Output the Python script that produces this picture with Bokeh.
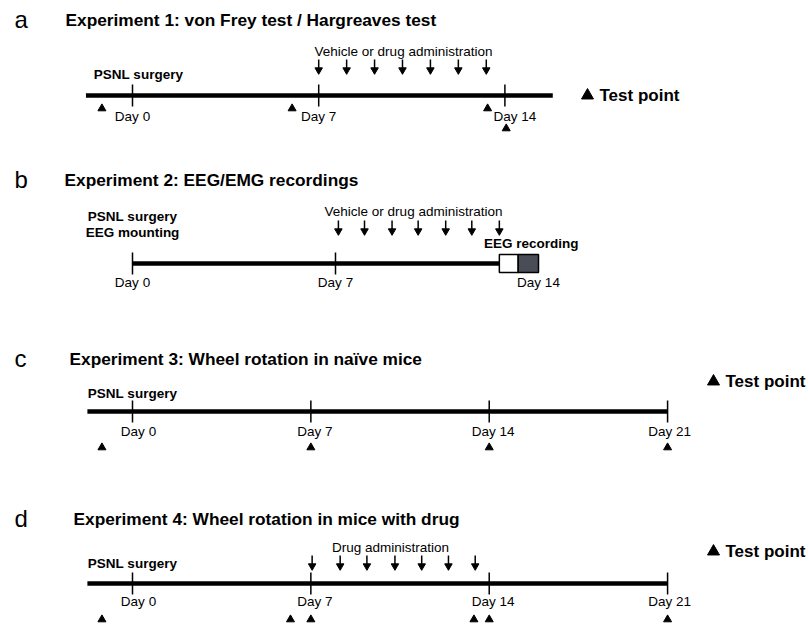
from bokeh.plotting import figure
from bokeh.models import Range1d
from bokeh.core.properties import value
from bokeh.embed import file_html
from bokeh.resources import INLINE

# ---------------- data (days) ----------------
panel_letters = ["a", "b", "c", "d"]
titles = ["Experiment 1: von Frey test / Hargreaves test",
          "Experiment 2: EEG/EMG recordings",
          "Experiment 3: Wheel rotation in na\u00efve mice",
          "Experiment 4: Wheel rotation in mice with drug"]

# Experiment 1
a_span = [-1.75, 15.8]
a_tick_days = [0, 7, 14]
a_tick_labels = ["Day 0", "Day 7", "Day 14"]
a_admin_days = [7.0, 8.05, 9.1, 10.15, 11.2, 12.25, 13.3]
a_test_days = [-1.15, 6.0, 13.35]
a_test_days_low = [14.05]

# Experiment 2
b_span = [0, 12.65]
b_tick_days = [0, 7]
b_label_days = [0, 7, 14]
b_tick_labels = ["Day 0", "Day 7", "Day 14"]
b_admin_days = [7.1, 8.0, 8.95, 9.85, 10.8, 11.7, 12.65]
b_eeg_left = [12.65, 13.3]
b_eeg_right = [13.3, 14.0]

# Experiment 3
c_span = [-1.77, 21]
c_tick_days = [0, 7, 14, 21]
c_tick_labels = ["Day 0", "Day 7", "Day 14", "Day 21"]
c_test_days = [-1.2, 7, 14, 21]

# Experiment 4
d_span = [-1.77, 21]
d_tick_days = [0, 7, 14, 21]
d_tick_labels = ["Day 0", "Day 7", "Day 14", "Day 21"]
d_admin_days = [7.05, 8.15, 9.2, 10.3, 11.35, 12.4, 13.45]
d_test_days = [-1.2, 6.2, 7, 13.4, 14, 21]

# ---------------- layout ----------------
W, H = 809, 626
FONT = "Liberation Sans"
DARK = "#4a4d56"

p = figure(width=W, height=H, x_range=Range1d(0, W), y_range=Range1d(H, 0),
           output_backend="svg", toolbar_location=None, min_border=0,
           x_axis_location=None, y_axis_location=None)
p.grid.visible = False
p.outline_line_color = None


def day_range(p0, s):
    return Range1d(-p0 / s, (W - p0) / s)


p.extra_x_ranges = {"a": day_range(132, 26.6), "b": day_range(132, 29.0),
                    "cd": day_range(132, 25.48)}


def txt(x, y, s, size, bold=False, align="left", rng="default", dx=0):
    n = len(s) if isinstance(s, list) else 1
    xs = x if isinstance(x, list) else [x]
    ys = y if isinstance(y, list) else [y] * n
    ss = s if isinstance(s, list) else [s]
    dxs = dx if isinstance(dx, list) else [dx] * n
    p.text(x=xs, y=ys, text=ss, x_offset=dxs, text_font=value(FONT),
           text_font_size=f"{size}px", text_font_style="bold" if bold else "normal",
           text_align=align, text_baseline="middle", text_color="black",
           x_range_name=rng)


def timeline(rng, y, span, ticks, lw=4.5):
    p.segment(x0=[span[0]], x1=[span[1]], y0=[y], y1=[y], line_width=lw,
              line_color="black", x_range_name=rng)
    p.segment(x0=ticks, x1=ticks, y0=[y - 11] * len(ticks), y1=[y + 11] * len(ticks),
              line_width=1.5, line_color="black", x_range_name=rng)


def arrows(rng, days, ytop, ytip):
    n = len(days)
    p.segment(x0=days, x1=days, y0=[ytop] * n, y1=[ytip - 4] * n, line_width=1.5,
              line_color="black", x_range_name=rng)
    p.scatter(x=days, y=[ytip - 3.5] * n, marker="inverted_triangle", size=7.5,
              fill_color="black", line_color="black", x_range_name=rng)


def tests(rng, days, y, size=8):
    p.scatter(x=days, y=[y] * len(days), marker="triangle", size=size,
              fill_color="black", line_color="black", x_range_name=rng)


def legend(x, y):
    p.scatter(x=[x], y=[y], marker="triangle", size=12, fill_color="black",
              line_color="black")
    txt(x + 12, y, "Test point", 17, bold=True)


# panel letters and titles
letter_y = [19, 179, 358, 518]
title_x = [65, 64, 69, 73]
for L, T, ly, tx in zip(panel_letters, titles, letter_y, title_x):
    txt(14, ly, L, 24)
    txt(tx, ly, T, 17.3, bold=True)

# ---- panel a ----
timeline("a", 95, a_span, a_tick_days)
txt(403, 51, "Vehicle or drug administration", 13.5, align="center")
arrows("a", a_admin_days, 59, 73)
txt(0, 74, "PSNL surgery", 13.5, bold=True, align="center", rng="a", dx=6)
txt(a_tick_days, 116, a_tick_labels, 13.5, align="center", rng="a", dx=[0, 0, 10])
tests("a", a_test_days, 108)
tests("a", a_test_days_low, 128)
legend(587, 95)

# ---- panel b ----
timeline("b", 263, b_span, b_tick_days)
p.quad(left=[b_eeg_left[0], b_eeg_right[0]], right=[b_eeg_left[1], b_eeg_right[1]],
       top=[254, 254], bottom=[272, 272], fill_color=["white", DARK],
       line_color="black", line_width=1.5, x_range_name="b")
txt(413, 211, "Vehicle or drug administration", 13.5, align="center")
arrows("b", b_admin_days, 220, 234)
txt(0, 216, "PSNL surgery", 13.5, bold=True, align="center", rng="b")
txt(0, 232, "EEG mounting", 13.5, bold=True, align="center", rng="b")
txt(578, 243, "EEG recording", 13.5, bold=True, align="right")
txt(b_label_days, 282, b_tick_labels, 13.5, align="center", rng="b")

# ---- panel c ----
timeline("cd", 411, c_span, c_tick_days)
txt(0, 393, "PSNL surgery", 13.5, bold=True, align="center", rng="cd")
txt(c_tick_days, 431, c_tick_labels, 13.5, align="center", rng="cd", dx=[6, 4, 4, 2])
tests("cd", c_test_days, 447)
legend(713, 381)

# ---- panel d ----
timeline("cd", 583, d_span, d_tick_days)
txt(390, 547, "Drug administration", 13.5, align="center")
arrows("cd", d_admin_days, 555, 569)
txt(0, 563, "PSNL surgery", 13.5, bold=True, align="center", rng="cd")
txt(d_tick_days, 601, d_tick_labels, 13.5, align="center", rng="cd", dx=[6, 4, 4, 2])
tests("cd", d_test_days, 619)
legend(713, 551)

open("out.html", "w").write(file_html(p, INLINE))
